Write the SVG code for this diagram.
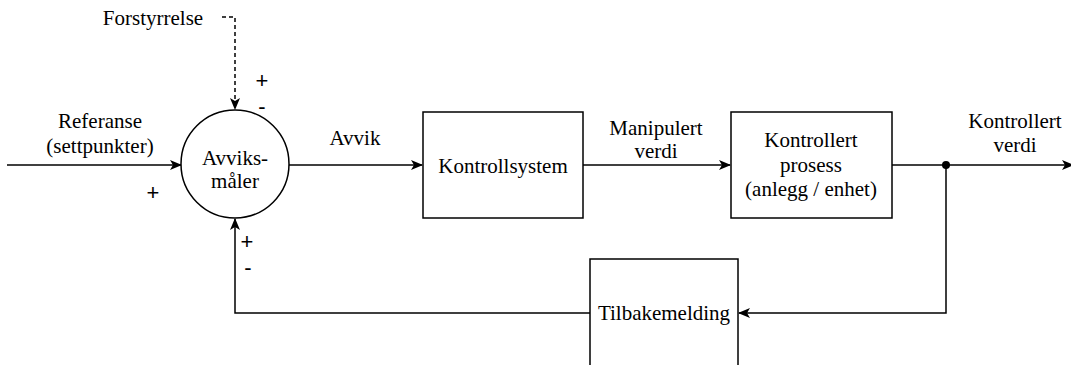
<svg xmlns="http://www.w3.org/2000/svg" width="1071" height="365" viewBox="0 0 1071 365">
<defs>
<style>
.t{font-family:'Liberation Serif','Times New Roman',serif;font-size:21px;fill:#000;text-anchor:middle}
.s{font-family:'Liberation Sans',Arial,sans-serif;font-size:22px;fill:#000;text-anchor:middle}
.box{fill:#fff;stroke:#000;stroke-width:1.5}
.ln{fill:none;stroke:#000;stroke-width:1.5}
.dash{fill:none;stroke:#000;stroke-width:1.5;stroke-dasharray:4 3}
</style>
<marker id="arr" viewBox="0 0 12 10" refX="11" refY="5" markerWidth="12" markerHeight="10" markerUnits="userSpaceOnUse" orient="auto">
<path d="M0,0 L12,5 L0,10 L3,5 Z" fill="#000"/>
</marker>
</defs>
<rect width="1071" height="365" fill="#fff"/>
<g id="connectors">
<path class="ln" d="M7,165 H181" marker-end="url(#arr)"/>
<path class="dash" d="M222,17 H235 V109" marker-end="url(#arr)"/>
<path class="ln" d="M289,165 H422" marker-end="url(#arr)"/>
<path class="ln" d="M583,165 H730" marker-end="url(#arr)"/>
<path class="ln" d="M892,165 H1073" marker-end="url(#arr)"/>
<path class="ln" d="M946,165 V313 H739" marker-end="url(#arr)"/>
<path class="ln" d="M590,313 H235 V219" marker-end="url(#arr)"/>
<circle cx="946" cy="165" r="4" fill="#000"/>
</g>
<g id="labels">
<text class="t" x="153" y="25">Forstyrrelse</text>
<text class="t" x="100" y="128">Referanse</text>
<text class="t" x="100" y="153">(settpunkter)</text>
<text class="t" x="355" y="145">Avvik</text>
<text class="t" x="656" y="135">Manipulert</text>
<text class="t" x="656" y="158">verdi</text>
<text class="t" x="1015" y="128">Kontrollert</text>
<text class="t" x="1015" y="152">verdi</text>
<text class="s" x="262" y="88">+</text>
<text class="s" x="262" y="114">-</text>
<text class="s" x="153" y="200">+</text>
<text class="s" x="247" y="249">+</text>
<text class="s" x="248" y="275">-</text>
</g>
<g id="avviksmaler">
<circle class="box" cx="235" cy="164" r="54"/>
<text class="t" x="235" y="165">Avviks-</text>
<text class="t" x="235" y="188">måler</text>
</g>
<g id="kontrollsystem">
<rect class="box" x="423" y="112" width="160" height="106"/>
<text class="t" x="503" y="173">Kontrollsystem</text>
</g>
<g id="prosess">
<rect class="box" x="731" y="112" width="161" height="106"/>
<text class="t" x="811" y="147">Kontrollert</text>
<text class="t" x="811" y="172">prosess</text>
<text class="t" x="811" y="196">(anlegg / enhet)</text>
</g>
<g id="tilbakemelding">
<rect class="box" x="590" y="259" width="148" height="110"/>
<text class="t" x="664" y="320">Tilbakemelding</text>
</g>
</svg>
